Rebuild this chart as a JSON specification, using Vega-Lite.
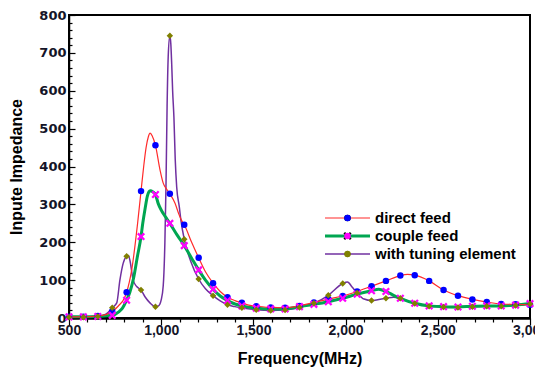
{
  "$schema": "https://vega.github.io/schema/vega-lite/v6.json",
  "width": 461,
  "height": 303,
  "autosize": "none",
  "padding": {"left": 69, "top": 15, "right": 5, "bottom": 51},
  "background": "white",
  "config": {"view": {"stroke": "#000", "strokeWidth": 2}, "font": "Liberation Sans", "axis": {"labelOverlap": false}},
  "resolve": {"axis": {"x": "independent", "y": "independent"}},
  "datasets": {
    "lines": [
      {"series": "with tuning element", "f": 500, "z": 2},
      {"series": "with tuning element", "f": 578.1, "z": 2},
      {"series": "with tuning element", "f": 656.3, "z": 4},
      {"series": "with tuning element", "f": 700, "z": 10},
      {"series": "with tuning element", "f": 734.4, "z": 27},
      {"series": "with tuning element", "f": 759, "z": 40},
      {"series": "with tuning element", "f": 776, "z": 100},
      {"series": "with tuning element", "f": 794, "z": 145},
      {"series": "with tuning element", "f": 812.5, "z": 163},
      {"series": "with tuning element", "f": 822, "z": 165},
      {"series": "with tuning element", "f": 830, "z": 153},
      {"series": "with tuning element", "f": 848, "z": 100},
      {"series": "with tuning element", "f": 867, "z": 83},
      {"series": "with tuning element", "f": 890.6, "z": 74},
      {"series": "with tuning element", "f": 912, "z": 56},
      {"series": "with tuning element", "f": 939, "z": 40},
      {"series": "with tuning element", "f": 968.8, "z": 30},
      {"series": "with tuning element", "f": 985, "z": 32},
      {"series": "with tuning element", "f": 1000, "z": 48},
      {"series": "with tuning element", "f": 1011, "z": 85},
      {"series": "with tuning element", "f": 1020, "z": 200},
      {"series": "with tuning element", "f": 1026, "z": 350},
      {"series": "with tuning element", "f": 1032, "z": 560},
      {"series": "with tuning element", "f": 1038, "z": 690},
      {"series": "with tuning element", "f": 1046.9, "z": 745},
      {"series": "with tuning element", "f": 1052, "z": 725},
      {"series": "with tuning element", "f": 1057, "z": 670},
      {"series": "with tuning element", "f": 1062, "z": 600},
      {"series": "with tuning element", "f": 1069, "z": 530},
      {"series": "with tuning element", "f": 1076, "z": 420},
      {"series": "with tuning element", "f": 1084, "z": 346},
      {"series": "with tuning element", "f": 1098, "z": 294},
      {"series": "with tuning element", "f": 1107, "z": 258},
      {"series": "with tuning element", "f": 1125, "z": 208},
      {"series": "with tuning element", "f": 1160, "z": 150},
      {"series": "with tuning element", "f": 1203.1, "z": 103},
      {"series": "with tuning element", "f": 1240, "z": 77},
      {"series": "with tuning element", "f": 1281.3, "z": 59},
      {"series": "with tuning element", "f": 1320, "z": 45},
      {"series": "with tuning element", "f": 1359.4, "z": 35},
      {"series": "with tuning element", "f": 1400, "z": 30},
      {"series": "with tuning element", "f": 1437.5, "z": 27},
      {"series": "with tuning element", "f": 1515.6, "z": 22},
      {"series": "with tuning element", "f": 1593.8, "z": 20},
      {"series": "with tuning element", "f": 1671.9, "z": 21},
      {"series": "with tuning element", "f": 1750, "z": 28},
      {"series": "with tuning element", "f": 1828.1, "z": 39},
      {"series": "with tuning element", "f": 1906.3, "z": 60},
      {"series": "with tuning element", "f": 1984.4, "z": 91},
      {"series": "with tuning element", "f": 2010, "z": 95},
      {"series": "with tuning element", "f": 2035, "z": 82},
      {"series": "with tuning element", "f": 2062.5, "z": 66},
      {"series": "with tuning element", "f": 2100, "z": 50},
      {"series": "with tuning element", "f": 2140.6, "z": 46},
      {"series": "with tuning element", "f": 2180, "z": 49},
      {"series": "with tuning element", "f": 2218.8, "z": 52},
      {"series": "with tuning element", "f": 2260, "z": 55},
      {"series": "with tuning element", "f": 2296.9, "z": 52},
      {"series": "with tuning element", "f": 2375, "z": 38},
      {"series": "with tuning element", "f": 2453.1, "z": 31},
      {"series": "with tuning element", "f": 2531.3, "z": 29},
      {"series": "with tuning element", "f": 2609.4, "z": 28},
      {"series": "with tuning element", "f": 2687.5, "z": 30},
      {"series": "with tuning element", "f": 2765.6, "z": 31},
      {"series": "with tuning element", "f": 2843.8, "z": 31},
      {"series": "with tuning element", "f": 2921.9, "z": 33},
      {"series": "with tuning element", "f": 3000, "z": 37},
      {"series": "couple feed", "f": 500, "z": 3},
      {"series": "couple feed", "f": 578.1, "z": 3},
      {"series": "couple feed", "f": 656.3, "z": 4},
      {"series": "couple feed", "f": 734.4, "z": 7},
      {"series": "couple feed", "f": 770, "z": 16},
      {"series": "couple feed", "f": 790, "z": 26},
      {"series": "couple feed", "f": 812.5, "z": 47},
      {"series": "couple feed", "f": 830, "z": 68},
      {"series": "couple feed", "f": 850, "z": 105},
      {"series": "couple feed", "f": 870, "z": 160},
      {"series": "couple feed", "f": 890.6, "z": 215},
      {"series": "couple feed", "f": 900, "z": 250},
      {"series": "couple feed", "f": 913, "z": 290},
      {"series": "couple feed", "f": 925, "z": 322},
      {"series": "couple feed", "f": 940, "z": 336},
      {"series": "couple feed", "f": 955, "z": 333},
      {"series": "couple feed", "f": 968.8, "z": 326},
      {"series": "couple feed", "f": 984, "z": 302},
      {"series": "couple feed", "f": 1000, "z": 285},
      {"series": "couple feed", "f": 1011, "z": 276},
      {"series": "couple feed", "f": 1030, "z": 262},
      {"series": "couple feed", "f": 1046.9, "z": 250},
      {"series": "couple feed", "f": 1085, "z": 220},
      {"series": "couple feed", "f": 1125, "z": 191},
      {"series": "couple feed", "f": 1165, "z": 158},
      {"series": "couple feed", "f": 1203.1, "z": 127},
      {"series": "couple feed", "f": 1240, "z": 100},
      {"series": "couple feed", "f": 1281.3, "z": 76},
      {"series": "couple feed", "f": 1320, "z": 58},
      {"series": "couple feed", "f": 1359.4, "z": 46},
      {"series": "couple feed", "f": 1400, "z": 37},
      {"series": "couple feed", "f": 1437.5, "z": 32},
      {"series": "couple feed", "f": 1515.6, "z": 26},
      {"series": "couple feed", "f": 1593.8, "z": 24},
      {"series": "couple feed", "f": 1671.9, "z": 24},
      {"series": "couple feed", "f": 1750, "z": 30},
      {"series": "couple feed", "f": 1828.1, "z": 36},
      {"series": "couple feed", "f": 1906.3, "z": 43},
      {"series": "couple feed", "f": 1984.4, "z": 52},
      {"series": "couple feed", "f": 2062.5, "z": 63},
      {"series": "couple feed", "f": 2140.6, "z": 72},
      {"series": "couple feed", "f": 2180, "z": 76},
      {"series": "couple feed", "f": 2218.8, "z": 70},
      {"series": "couple feed", "f": 2260, "z": 60},
      {"series": "couple feed", "f": 2296.9, "z": 52},
      {"series": "couple feed", "f": 2375, "z": 39},
      {"series": "couple feed", "f": 2453.1, "z": 32},
      {"series": "couple feed", "f": 2531.3, "z": 30},
      {"series": "couple feed", "f": 2609.4, "z": 29},
      {"series": "couple feed", "f": 2687.5, "z": 31},
      {"series": "couple feed", "f": 2765.6, "z": 32},
      {"series": "couple feed", "f": 2843.8, "z": 32},
      {"series": "couple feed", "f": 2921.9, "z": 34},
      {"series": "couple feed", "f": 3000, "z": 38},
      {"series": "direct feed", "f": 500, "z": 3},
      {"series": "direct feed", "f": 578.1, "z": 3},
      {"series": "direct feed", "f": 656.3, "z": 5},
      {"series": "direct feed", "f": 700, "z": 9},
      {"series": "direct feed", "f": 734.4, "z": 17},
      {"series": "direct feed", "f": 770, "z": 33},
      {"series": "direct feed", "f": 800, "z": 52},
      {"series": "direct feed", "f": 812.5, "z": 68},
      {"series": "direct feed", "f": 840, "z": 127},
      {"series": "direct feed", "f": 872, "z": 250},
      {"series": "direct feed", "f": 890.6, "z": 335},
      {"series": "direct feed", "f": 905, "z": 400},
      {"series": "direct feed", "f": 918, "z": 450},
      {"series": "direct feed", "f": 930, "z": 478},
      {"series": "direct feed", "f": 940, "z": 488},
      {"series": "direct feed", "f": 952, "z": 480},
      {"series": "direct feed", "f": 968.8, "z": 456},
      {"series": "direct feed", "f": 994, "z": 390},
      {"series": "direct feed", "f": 1011, "z": 356},
      {"series": "direct feed", "f": 1030, "z": 340},
      {"series": "direct feed", "f": 1046.9, "z": 328},
      {"series": "direct feed", "f": 1075, "z": 303},
      {"series": "direct feed", "f": 1095, "z": 275},
      {"series": "direct feed", "f": 1110, "z": 258},
      {"series": "direct feed", "f": 1125, "z": 246},
      {"series": "direct feed", "f": 1165, "z": 200},
      {"series": "direct feed", "f": 1203.1, "z": 159},
      {"series": "direct feed", "f": 1240, "z": 122},
      {"series": "direct feed", "f": 1281.3, "z": 92},
      {"series": "direct feed", "f": 1320, "z": 70},
      {"series": "direct feed", "f": 1359.4, "z": 55},
      {"series": "direct feed", "f": 1400, "z": 46},
      {"series": "direct feed", "f": 1437.5, "z": 40},
      {"series": "direct feed", "f": 1475, "z": 34},
      {"series": "direct feed", "f": 1515.6, "z": 31},
      {"series": "direct feed", "f": 1593.8, "z": 28},
      {"series": "direct feed", "f": 1671.9, "z": 27},
      {"series": "direct feed", "f": 1750, "z": 32},
      {"series": "direct feed", "f": 1828.1, "z": 41},
      {"series": "direct feed", "f": 1906.3, "z": 50},
      {"series": "direct feed", "f": 1984.4, "z": 58},
      {"series": "direct feed", "f": 2062.5, "z": 70},
      {"series": "direct feed", "f": 2140.6, "z": 84},
      {"series": "direct feed", "f": 2218.8, "z": 98},
      {"series": "direct feed", "f": 2296.9, "z": 112},
      {"series": "direct feed", "f": 2336, "z": 115},
      {"series": "direct feed", "f": 2375, "z": 113},
      {"series": "direct feed", "f": 2453.1, "z": 98},
      {"series": "direct feed", "f": 2531.3, "z": 74},
      {"series": "direct feed", "f": 2609.4, "z": 59},
      {"series": "direct feed", "f": 2687.5, "z": 49},
      {"series": "direct feed", "f": 2765.6, "z": 42},
      {"series": "direct feed", "f": 2843.8, "z": 37},
      {"series": "direct feed", "f": 2921.9, "z": 36},
      {"series": "direct feed", "f": 3000, "z": 35}
    ],
    "markers": [
      {"series": "direct feed", "f": 500, "z": 3},
      {"series": "direct feed", "f": 578.1, "z": 3},
      {"series": "direct feed", "f": 656.3, "z": 5},
      {"series": "direct feed", "f": 734.4, "z": 17},
      {"series": "direct feed", "f": 812.5, "z": 68},
      {"series": "direct feed", "f": 890.6, "z": 335},
      {"series": "direct feed", "f": 968.8, "z": 456},
      {"series": "direct feed", "f": 1046.9, "z": 328},
      {"series": "direct feed", "f": 1125, "z": 246},
      {"series": "direct feed", "f": 1203.1, "z": 159},
      {"series": "direct feed", "f": 1281.3, "z": 92},
      {"series": "direct feed", "f": 1359.4, "z": 55},
      {"series": "direct feed", "f": 1437.5, "z": 40},
      {"series": "direct feed", "f": 1515.6, "z": 31},
      {"series": "direct feed", "f": 1593.8, "z": 28},
      {"series": "direct feed", "f": 1671.9, "z": 27},
      {"series": "direct feed", "f": 1750, "z": 32},
      {"series": "direct feed", "f": 1828.1, "z": 41},
      {"series": "direct feed", "f": 1906.3, "z": 50},
      {"series": "direct feed", "f": 1984.4, "z": 58},
      {"series": "direct feed", "f": 2062.5, "z": 70},
      {"series": "direct feed", "f": 2140.6, "z": 84},
      {"series": "direct feed", "f": 2218.8, "z": 98},
      {"series": "direct feed", "f": 2296.9, "z": 112},
      {"series": "direct feed", "f": 2375, "z": 113},
      {"series": "direct feed", "f": 2453.1, "z": 98},
      {"series": "direct feed", "f": 2531.3, "z": 74},
      {"series": "direct feed", "f": 2609.4, "z": 59},
      {"series": "direct feed", "f": 2687.5, "z": 49},
      {"series": "direct feed", "f": 2765.6, "z": 42},
      {"series": "direct feed", "f": 2843.8, "z": 37},
      {"series": "direct feed", "f": 2921.9, "z": 36},
      {"series": "direct feed", "f": 3000, "z": 35},
      {"series": "couple feed", "f": 500, "z": 3},
      {"series": "couple feed", "f": 578.1, "z": 3},
      {"series": "couple feed", "f": 656.3, "z": 4},
      {"series": "couple feed", "f": 734.4, "z": 7},
      {"series": "couple feed", "f": 812.5, "z": 47},
      {"series": "couple feed", "f": 890.6, "z": 215},
      {"series": "couple feed", "f": 968.8, "z": 326},
      {"series": "couple feed", "f": 1046.9, "z": 250},
      {"series": "couple feed", "f": 1125, "z": 191},
      {"series": "couple feed", "f": 1203.1, "z": 127},
      {"series": "couple feed", "f": 1281.3, "z": 76},
      {"series": "couple feed", "f": 1359.4, "z": 46},
      {"series": "couple feed", "f": 1437.5, "z": 32},
      {"series": "couple feed", "f": 1515.6, "z": 26},
      {"series": "couple feed", "f": 1593.8, "z": 24},
      {"series": "couple feed", "f": 1671.9, "z": 24},
      {"series": "couple feed", "f": 1750, "z": 30},
      {"series": "couple feed", "f": 1828.1, "z": 36},
      {"series": "couple feed", "f": 1906.3, "z": 43},
      {"series": "couple feed", "f": 1984.4, "z": 52},
      {"series": "couple feed", "f": 2062.5, "z": 63},
      {"series": "couple feed", "f": 2140.6, "z": 72},
      {"series": "couple feed", "f": 2218.8, "z": 70},
      {"series": "couple feed", "f": 2296.9, "z": 52},
      {"series": "couple feed", "f": 2375, "z": 39},
      {"series": "couple feed", "f": 2453.1, "z": 32},
      {"series": "couple feed", "f": 2531.3, "z": 30},
      {"series": "couple feed", "f": 2609.4, "z": 29},
      {"series": "couple feed", "f": 2687.5, "z": 31},
      {"series": "couple feed", "f": 2765.6, "z": 32},
      {"series": "couple feed", "f": 2843.8, "z": 32},
      {"series": "couple feed", "f": 2921.9, "z": 34},
      {"series": "couple feed", "f": 3000, "z": 38},
      {"series": "with tuning element", "f": 500, "z": 2},
      {"series": "with tuning element", "f": 578.1, "z": 2},
      {"series": "with tuning element", "f": 656.3, "z": 4},
      {"series": "with tuning element", "f": 734.4, "z": 27},
      {"series": "with tuning element", "f": 812.5, "z": 163},
      {"series": "with tuning element", "f": 890.6, "z": 74},
      {"series": "with tuning element", "f": 968.8, "z": 30},
      {"series": "with tuning element", "f": 1046.9, "z": 745},
      {"series": "with tuning element", "f": 1125, "z": 208},
      {"series": "with tuning element", "f": 1203.1, "z": 103},
      {"series": "with tuning element", "f": 1281.3, "z": 59},
      {"series": "with tuning element", "f": 1359.4, "z": 35},
      {"series": "with tuning element", "f": 1437.5, "z": 27},
      {"series": "with tuning element", "f": 1515.6, "z": 22},
      {"series": "with tuning element", "f": 1593.8, "z": 20},
      {"series": "with tuning element", "f": 1671.9, "z": 21},
      {"series": "with tuning element", "f": 1750, "z": 28},
      {"series": "with tuning element", "f": 1828.1, "z": 39},
      {"series": "with tuning element", "f": 1906.3, "z": 60},
      {"series": "with tuning element", "f": 1984.4, "z": 91},
      {"series": "with tuning element", "f": 2062.5, "z": 66},
      {"series": "with tuning element", "f": 2140.6, "z": 46},
      {"series": "with tuning element", "f": 2218.8, "z": 52},
      {"series": "with tuning element", "f": 2296.9, "z": 52},
      {"series": "with tuning element", "f": 2375, "z": 38},
      {"series": "with tuning element", "f": 2453.1, "z": 31},
      {"series": "with tuning element", "f": 2531.3, "z": 29},
      {"series": "with tuning element", "f": 2609.4, "z": 28},
      {"series": "with tuning element", "f": 2687.5, "z": 30},
      {"series": "with tuning element", "f": 2765.6, "z": 31},
      {"series": "with tuning element", "f": 2843.8, "z": 31},
      {"series": "with tuning element", "f": 2921.9, "z": 33},
      {"series": "with tuning element", "f": 3000, "z": 37}
    ]
  },
  "layer": [
    {
      "data": {"name": "lines"},
      "mark": {"type": "line", "interpolate": "monotone"},
      "encoding": {
        "x": {
          "field": "f", "type": "quantitative",
          "scale": {"domain": [500, 3000], "nice": false, "zero": false},
          "axis": {
            "orient": "bottom",
            "title": "Frequency(MHz)",
            "values": [500, 1000, 1500, 2000, 2500, 3000],
            "format": ",.0f",
            "grid": false,
            "domainColor": "#000", "domainWidth": 2.5,
            "tickColor": "#000", "tickWidth": 1.2, "tickSize": 7,
            "labelFont": "Liberation Sans", "labelFontSize": 14, "labelFontWeight": "bold", "labelColor": "#141428",
            "labelPadding": -2, "labelFlush": false, "labelOverlap": false, "labelBound": false,
            "titleFont": "Liberation Sans", "titleFontSize": 16, "titleFontWeight": "bold", "titleColor": "#000", "titlePadding": 13
          }
        },
        "y": {
          "field": "z", "type": "quantitative",
          "scale": {"domain": [0, 800], "nice": false},
          "axis": {
            "orient": "left",
            "title": "Inpute Impedance",
            "values": [0, 100, 200, 300, 400, 500, 600, 700, 800],
            "format": "d",
            "grid": false,
            "domainColor": "#000", "domainWidth": 1.5,
            "tickColor": "#000", "tickWidth": 1.2, "tickSize": -6,
            "labelFont": "DejaVu Sans", "labelFontSize": 13, "labelFontWeight": "bold", "labelColor": "#141428",
            "labelPadding": 9, "labelOverlap": false, "labelFlush": false,
            "titleFont": "Liberation Sans", "titleFontSize": 16, "titleFontWeight": "bold", "titleColor": "#000", "titlePadding": 14
          }
        },
        "stroke": {
          "field": "series", "type": "nominal",
          "scale": {"domain": ["direct feed", "couple feed", "with tuning element"], "range": ["#ff2a2a", "#00a651", "#7030a0"]},
          "legend": {
            "title": null, "orient": "none", "legendX": 254.5, "legendY": 195, "padding": 0,
            "symbolSize": 2025, "clipHeight": 16, "rowPadding": 2, "labelOffset": 3.5,
            "labelFont": "Liberation Sans", "labelFontSize": 15, "labelFontWeight": "bold", "labelColor": "#000"
          }
        },
        "strokeWidth": {
          "field": "series", "type": "nominal",
          "scale": {"type": "ordinal", "domain": ["direct feed", "couple feed", "with tuning element"], "range": [1.2, 3, 1.5]},
          "legend": {
            "title": null, "orient": "none", "legendX": 254.5, "legendY": 195, "padding": 0,
            "symbolSize": 2025, "clipHeight": 16, "rowPadding": 2, "labelOffset": 3.5,
            "labelFont": "Liberation Sans", "labelFontSize": 15, "labelFontWeight": "bold", "labelColor": "#000"
          }
        }
      }
    },
    {
      "data": {"name": "markers"},
      "mark": {"type": "point", "filled": true, "opacity": 1, "size": 42},
      "encoding": {
        "x": {
          "field": "f", "type": "quantitative",
          "axis": {
            "orient": "bottom", "title": null, "labels": false, "domain": false, "grid": false,
            "values": [600, 700, 800, 900, 1100, 1200, 1300, 1400, 1600, 1700, 1800, 1900, 2100, 2200, 2300, 2400, 2600, 2700, 2800, 2900],
            "tickColor": "#000", "tickWidth": 1.2, "tickSize": 4
          }
        },
        "y": {
          "field": "z", "type": "quantitative",
          "axis": {
            "orient": "left", "title": null, "labels": false, "domain": false, "grid": false,
            "values": [20,40,60,80,120,140,160,180,220,240,260,280,320,340,360,380,420,440,460,480,520,540,560,580,620,640,660,680,720,740,760,780],
            "tickColor": "#000", "tickWidth": 1.2, "tickSize": -3
          }
        },
        "fill": {
          "field": "series", "type": "nominal",
          "sort": ["direct feed", "couple feed", "with tuning element"],
          "scale": {"range": ["#0000ff", "#ff00ff", "#808000"]},
          "legend": {
            "title": null, "orient": "none", "legendX": 254.5, "legendY": 195, "padding": 0,
            "symbolSize": 42, "clipHeight": 16, "rowPadding": 2, "symbolOffset": 16.5,
            "labelFontSize": 15, "labelExpr": "''"
          }
        },
        "shape": {
          "field": "series", "type": "nominal",
          "sort": ["direct feed", "couple feed", "with tuning element"],
          "scale": {"range": ["circle", "M-1.25,-0.75L-0.75,-1.25L0,-0.5L0.75,-1.25L1.25,-0.75L0.5,0L1.25,0.75L0.75,1.25L0,0.5L-0.75,1.25L-1.25,0.75L-0.5,0Z", "diamond"]},
          "legend": {
            "title": null, "orient": "none", "legendX": 254.5, "legendY": 195, "padding": 0,
            "symbolSize": 42, "clipHeight": 16, "rowPadding": 2, "symbolOffset": 16.5,
            "labelFontSize": 15, "labelExpr": "''"
          }
        }
      }
    }
  ]
}
